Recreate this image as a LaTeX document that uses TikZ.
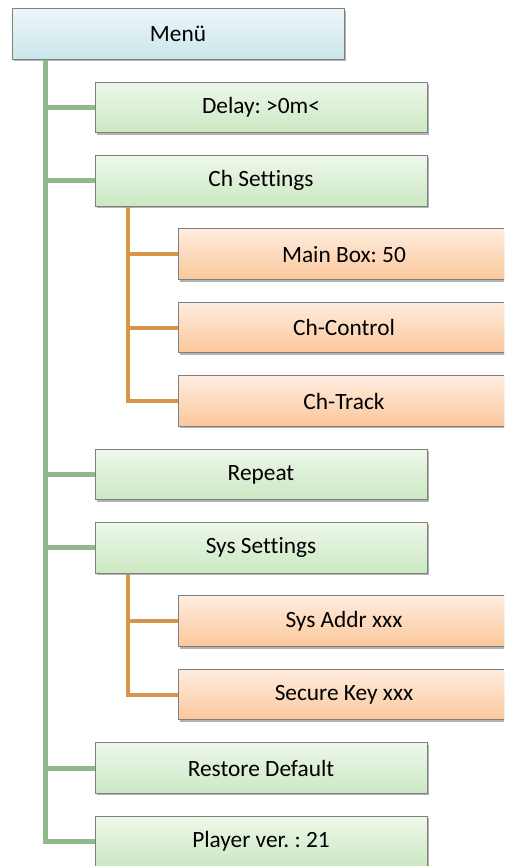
\documentclass[tikz,border=0pt]{standalone}
\usepackage{fontspec}
\setmainfont{Carlito}[Ligatures=NoCommon]
\frenchspacing
\usetikzlibrary{shadows}

\definecolor{menutop}{HTML}{EEF7F9}
\definecolor{menubot}{HTML}{C9E5EA}
\definecolor{greentop}{HTML}{EEF8EB}
\definecolor{greenbot}{HTML}{CBE8C2}
\definecolor{orangetop}{HTML}{FEEDE0}
\definecolor{orangebot}{HTML}{FBC79A}
\definecolor{greenwire}{HTML}{8FB88C}
\definecolor{orangewire}{HTML}{D8954A}
\definecolor{boxrim}{HTML}{7F7F7F}

\tikzset{
  menubox/.style={rectangle, draw=boxrim, line width=0.75pt,
    minimum width=249pt, minimum height=38pt, inner sep=0pt,
    font=\fontsize{17.5}{21}\selectfont,
    drop shadow={shadow xshift=1.2pt, shadow yshift=-1.5pt, opacity=0.3, fill=black}},
  topbox/.style={menubox, top color=menutop, bottom color=menubot},
  greenbox/.style={menubox, top color=greentop, bottom color=greenbot},
  orangebox/.style={menubox, top color=orangetop, bottom color=orangebot},
  greenline/.style={greenwire, line width=3.75pt},
  orangeline/.style={orangewire, line width=3pt}
}

\begin{document}
\begin{tikzpicture}[x=0.75pt,y=-0.75pt]
\def\rowh{73.4}
\clip (0,0) rectangle (504,866);
% top of the menu
\node[topbox] (menu) at (178,34) {Menü};
% first level
\node[greenbox] (delay)   at (261,{34+1*\rowh}) {Delay: >0m<};
\node[greenbox] (ch)      at (261,{34+2*\rowh}) {Ch Settings};
\node[greenbox] (repeat)  at (261,{34+6*\rowh}) {Repeat};
\node[greenbox] (sys)     at (261,{34+7*\rowh}) {Sys Settings};
\node[greenbox] (restore) at (261,{34+10*\rowh}) {Restore Default};
\node[greenbox] (player)  at (261,{34+11*\rowh}) {Player ver. : 21};
% second level
\node[orangebox] (mainbox) at (344,{34+3*\rowh}) {Main Box: 50};
\node[orangebox] (chctrl)  at (344,{34+4*\rowh}) {Ch-Control};
\node[orangebox] (chtrack) at (344,{34+5*\rowh}) {Ch-Track};
\node[orangebox] (sysaddr) at (344,{34+8*\rowh}) {Sys Addr xxx};
\node[orangebox] (seckey)  at (344,{34+9*\rowh}) {Secure Key xxx};
% wires
\coordinate (gx) at (45.5,0);
\coordinate (ox) at (128,0);
\draw[greenline] (menu.south -| gx) |- (player.west);
\foreach \n in {delay,ch,repeat,sys,restore}
  \draw[greenline] (\n.west -| gx) -- (\n.west);
\draw[orangeline] (ch.south -| ox) |- (chtrack.west);
\foreach \n in {mainbox,chctrl}
  \draw[orangeline] (\n.west -| ox) -- (\n.west);
\draw[orangeline] (sys.south -| ox) |- (seckey.west);
\draw[orangeline] (sysaddr.west -| ox) -- (sysaddr.west);
\end{tikzpicture}
\end{document}
